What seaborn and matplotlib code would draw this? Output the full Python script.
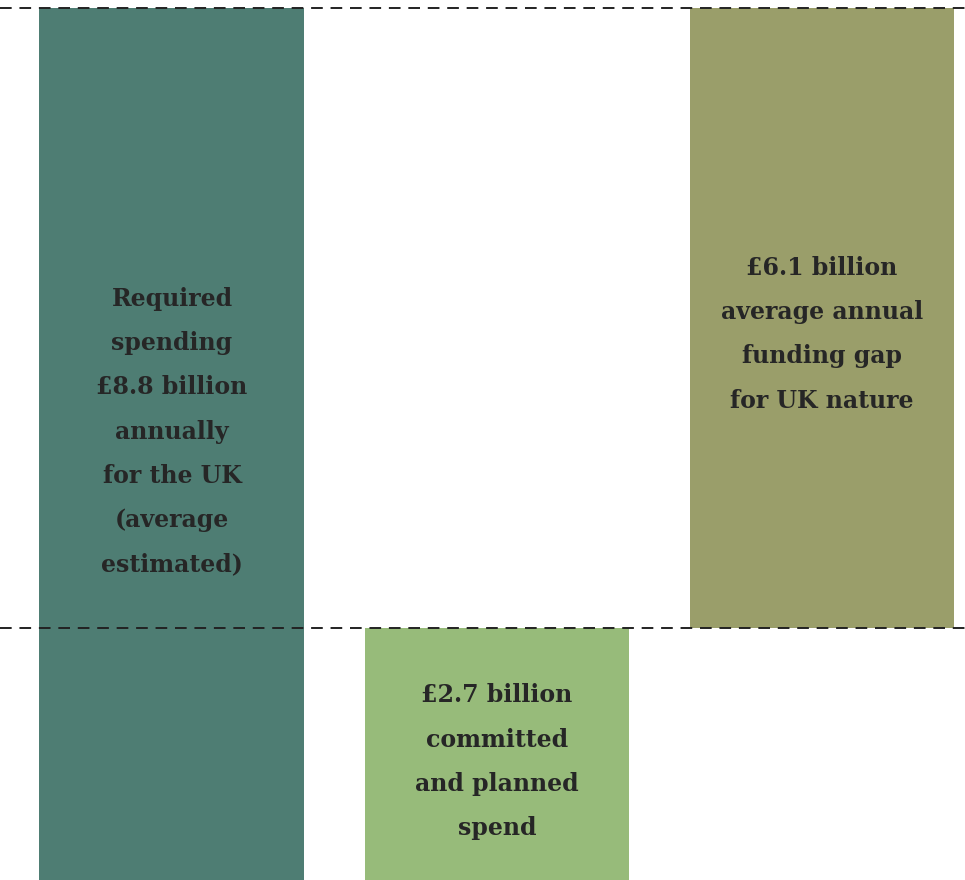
import matplotlib
matplotlib.use("Agg")
import matplotlib.pyplot as plt
import seaborn as sns
import pandas as pd

# Funding components (GBP billion)
categories = ["Required spending", "Committed and planned spend", "Funding gap"]
heights = [8.8, 2.7, 6.1]
bottoms = [0.0, 0.0, 2.7]
colors = ["#4e7d73", "#97bb7a", "#9a9e6a"]
labels = [
    "Required\nspending\n£8.8 billion\nannually\nfor the UK\n(average\nestimated)",
    "£2.7 billion\ncommitted\nand planned\nspend",
    "£6.1 billion\naverage annual\nfunding gap\nfor UK nature",
]
label_y = [4.63, 1.38, 5.59]
reference_levels = [8.8, 2.7]

df = pd.DataFrame({"category": categories, "height": heights})

sns.set_theme(style="white")
fig = plt.figure(figsize=(9.65, 8.8), dpi=100)
ax = fig.add_axes([0, 0, 1, 1])

sns.barplot(data=df, x="category", y="height", order=categories,
            bottom=bottoms, width=0.815, ax=ax, color=colors[0],
            saturation=1, linewidth=0, zorder=1)
for patch, c in zip(ax.patches, colors):
    patch.set_facecolor(c)

for lvl in reference_levels:
    ax.axhline(lvl, color="#222222", linestyle=(0, (6, 4)), linewidth=1.4, zorder=3)

for i, (txt, y) in enumerate(zip(labels, label_y)):
    ax.text(i, y, txt, ha="center", va="center", color="#262626",
            fontsize=17, fontweight="bold", family="DejaVu Serif",
            linespacing=2.07, zorder=4)

ax.set_xlim(-0.529, 2.44)
ax.set_ylim(0.217, 8.879)
ax.axis("off")

fig.savefig("out.png", dpi=100, facecolor="white")
